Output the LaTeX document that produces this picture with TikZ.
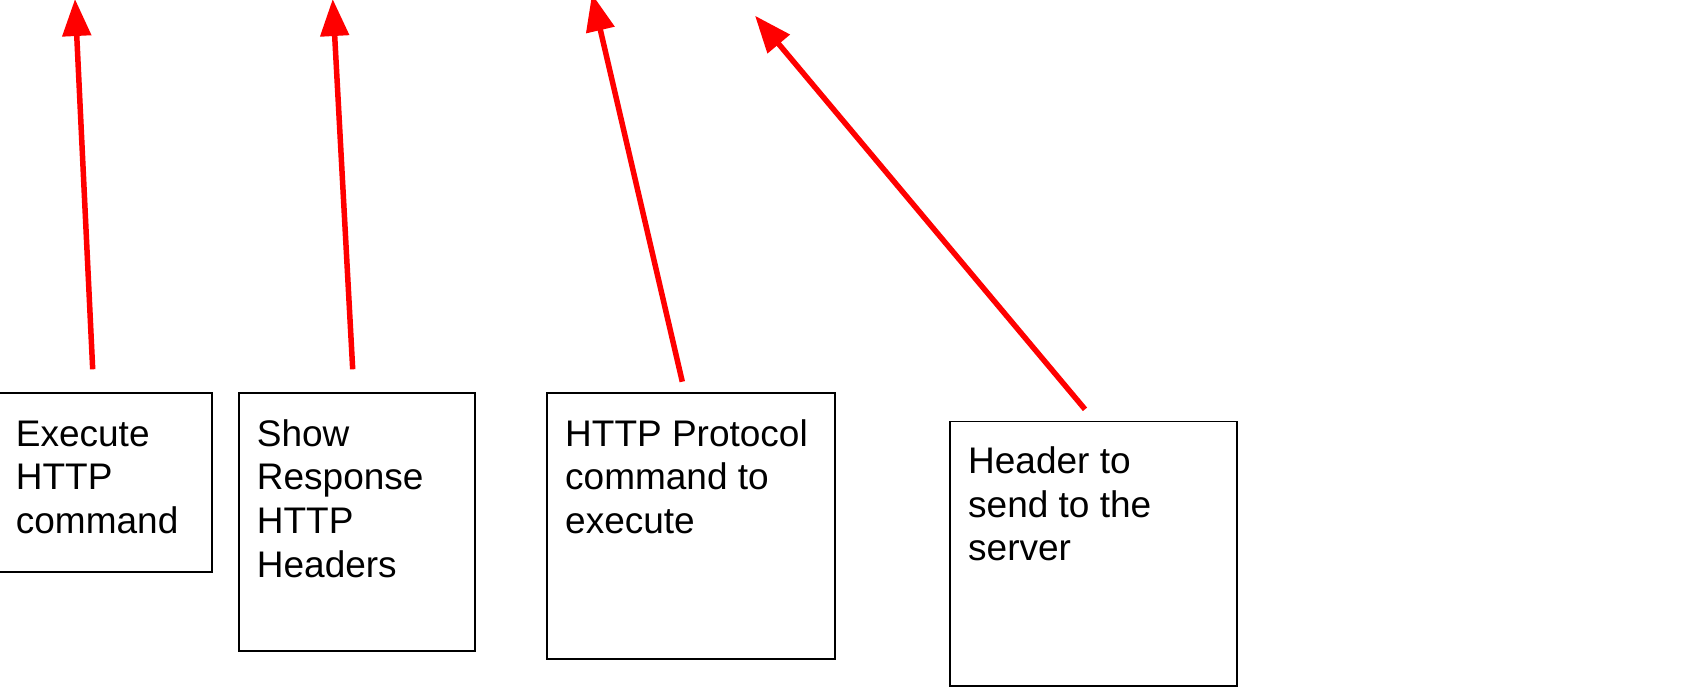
\documentclass[tikz,border=0pt]{standalone}
\usepackage{fontspec}
\setmainfont{Liberation Sans}
\usetikzlibrary{arrows.meta}

\tikzset{
  box/.style={draw=black, line width=1.8pt, rectangle, inner sep=0pt, anchor=north west},
  % text nodes are placed by the baseline of their last line
  label text/.style={anchor=base west, align=left, inner sep=0pt,
    font=\fontsize{37pt}{43.7pt}\selectfont},
  pointer/.style={draw=red, line width=5.5pt,
    -{Triangle[length=37pt, width=28pt]}},
}

\begin{document}
\begin{tikzpicture}[x=1pt, y=-1pt]
  \useasboundingbox (0,0) rectangle (1683,686);
  \clip (0,0) rectangle (1683,686);

  % Boxes
  \node[box, minimum width=226pt, minimum height=178.7pt] (b1) at (-15,392.3) {};
  \node[box, minimum width=236.3pt, minimum height=257.7pt] (b2) at (237.7,392.3) {};
  \node[box, minimum width=287.7pt, minimum height=265.7pt] (b3) at (546.3,392.3) {};
  \node[box, minimum width=287.4pt, minimum height=264.5pt] (b4) at (949,420.5) {};

  % Box texts
  \node[label text] (t1) at (15.7,533.4) {Execute\\HTTP\\command};
  \node[label text] (t2) at (256.7,577.1) {Show\\Response\\HTTP\\Headers};
  \node[label text] (t3) at (565,533.4) {HTTP Protocol\\command to\\execute};
  \node[label text] (t4) at (968,560.7) {Header to\\send to the\\server};

  % Arrow ends
  \coordinate (s1) at (92.7,369.3);
  \coordinate (e1) at (75,-1);
  \coordinate (s2) at (352.7,369.3);
  \coordinate (e2) at (332.7,-1);
  \coordinate (s3) at (682.3,381.7);
  \coordinate (e3) at (592,-6);
  \coordinate (s4) at (1085,409.3);
  \coordinate (e4) at (755,15.7);

  % Arrows
  \draw[pointer] (s1) -- (e1);
  \draw[pointer] (s2) -- (e2);
  \draw[pointer] (s3) -- (e3);
  \draw[pointer] (s4) -- (e4);
\end{tikzpicture}
\end{document}
